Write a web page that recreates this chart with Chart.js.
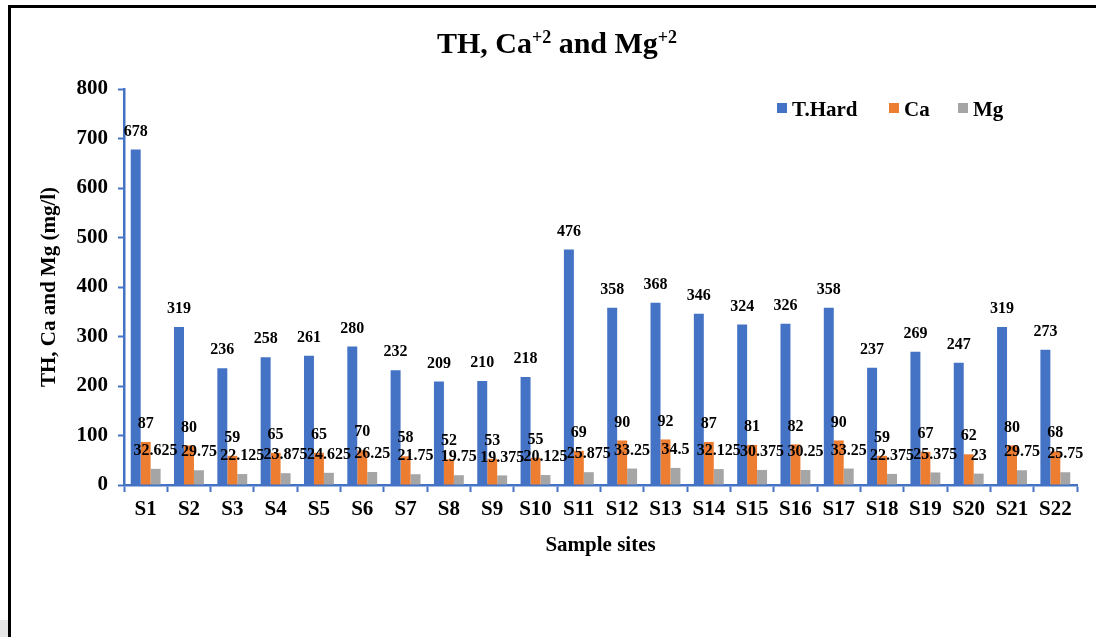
<!DOCTYPE html>
<html>
<head>
<meta charset="utf-8">
<script src="https://cdn.jsdelivr.net/npm/chart.js@4.4.1/dist/chart.umd.min.js"></script>
<style>
  html, body { margin: 0; padding: 0; background: #fff; }
  #wrap { position: relative; width: 1096px; height: 637px; overflow: hidden; }
  #frame { position: absolute; left: 8px; top: 5px; width: 1200px; height: 700px; border-left: 3px solid #000; border-top: 3px solid #000; }
  #corner { position: absolute; left: 0; top: 620px; width: 8px; height: 17px; background: #e6e6e6; }
  #chart { position: absolute; left: 0; top: 0; }
</style>
</head>
<body>
<div id="wrap">
  <div id="frame"></div>
  <div id="corner"></div>
  <canvas id="chart" width="1096" height="637"></canvas>
</div>
<script>
// 시료 지점
const categories = ['S1','S2','S3','S4','S5','S6','S7','S8','S9','S10','S11','S12','S13','S14','S15','S16','S17','S18','S19','S20','S21','S22'];
const thValues = [678,319,236,258,261,280,232,209,210,218,476,358,368,346,324,326,358,237,269,247,319,273];
const caValues = [87,80,59,65,65,70,58,52,53,55,69,90,92,87,81,82,90,59,67,62,80,68];
const mgValues = [32.625,29.75,22.125,23.875,24.625,26.25,21.75,19.75,19.375,20.125,25.875,33.25,34.5,32.125,30.375,30.25,33.25,22.375,25.375,23,29.75,25.75];
const seriesNames = ['T.Hard','Ca','Mg'];
const yMin = 0, yMax = 800, yStep = 100;

const colors = ['#4472C4','#ED7D31','#A5A5A5'];
const axisColor = '#4472C4';
const serif = "'Liberation Serif', 'Times New Roman', serif";

// 막대 위 값 표시
const valueLabels = {
    id: 'valueLabels',
    afterDatasetsDraw(chart) {
        const ctx = chart.ctx;
        ctx.save();
        ctx.font = 'bold 16px ' + serif;
        ctx.fillStyle = '#000';
        ctx.textAlign = 'center';
        ctx.textBaseline = 'middle';
        chart.data.datasets.forEach((ds, i) => {
            chart.getDatasetMeta(i).data.forEach((bar, j) => {
                ctx.fillText(String(ds.data[j]), bar.x, bar.y - 18);
            });
        });
        ctx.restore();
    }
};

// 제목 (위첨자 포함) + 범례
const titleAndLegend = {
    id: 'titleAndLegend',
    afterDraw(chart) {
        const ctx = chart.ctx;
        ctx.save();
        const parts = [['TH, Ca', false], ['+2', true], [' and Mg', false], ['+2', true]];
        const big = 'bold 30px ' + serif, small = 'bold 18px ' + serif;
        let w = 0;
        parts.forEach(p => { ctx.font = p[1] ? small : big; w += ctx.measureText(p[0]).width; });
        let x = 557 - w / 2;
        ctx.fillStyle = '#000';
        ctx.textBaseline = 'alphabetic';
        ctx.textAlign = 'left';
        parts.forEach(p => {
            ctx.font = p[1] ? small : big;
            ctx.fillText(p[0], x, p[1] ? 43 : 53);
            x += ctx.measureText(p[0]).width;
        });

        // 범례
        const legendX = [777, 889, 958];
        ctx.font = 'bold 21px ' + serif;
        chart.data.datasets.forEach((ds, i) => {
            ctx.fillStyle = ds.backgroundColor;
            ctx.fillRect(legendX[i], 103, 10, 10);
            ctx.fillStyle = '#000';
            ctx.fillText(ds.label, legendX[i] + 15, 116);
        });
        ctx.restore();
    }
};

const tickFont = { family: serif, size: 21, weight: 'bold' };

new Chart(document.getElementById('chart'), {
    type: 'bar',
    data: {
        labels: categories,
        datasets: [
            { label: seriesNames[0], data: thValues, backgroundColor: colors[0] },
            { label: seriesNames[1], data: caValues, backgroundColor: colors[1] },
            { label: seriesNames[2], data: mgValues, backgroundColor: colors[2] }
        ]
    },
    options: {
        responsive: false,
        animation: false,
        devicePixelRatio: 1,
        layout: { padding: { top: 89, right: 19, left: 0, bottom: 0 } },
        datasets: { bar: { barPercentage: 1, categoryPercentage: 0.69 } },
        plugins: { legend: { display: false }, title: { display: false }, tooltip: { enabled: false } },
        scales: {
            x: {
                grid: { drawOnChartArea: false, offset: true, color: axisColor, tickLength: 7, tickWidth: 2 },
                border: { color: axisColor, width: 2.5 },
                ticks: { color: '#000', font: tickFont, padding: 5, maxRotation: 0, autoSkip: false },
                title: { display: true, text: 'Sample sites', color: '#000', font: tickFont, padding: { top: 0, bottom: 79 } },
                afterFit(s) { s.height = 637 - 485; }
            },
            y: {
                min: yMin, max: yMax,
                grid: { drawOnChartArea: false, color: axisColor, tickLength: 6, tickWidth: 2 },
                border: { color: axisColor, width: 2.5 },
                ticks: { stepSize: yStep, color: '#000', font: tickFont, padding: 10 },
                title: { display: true, text: 'TH, Ca and Mg (mg/l)', color: '#000', font: tickFont, padding: { top: 37, bottom: 0 } },
                afterFit(s) { s.width = 124; }
            }
        }
    },
    plugins: [valueLabels, titleAndLegend]
});
</script>
</body>
</html>
